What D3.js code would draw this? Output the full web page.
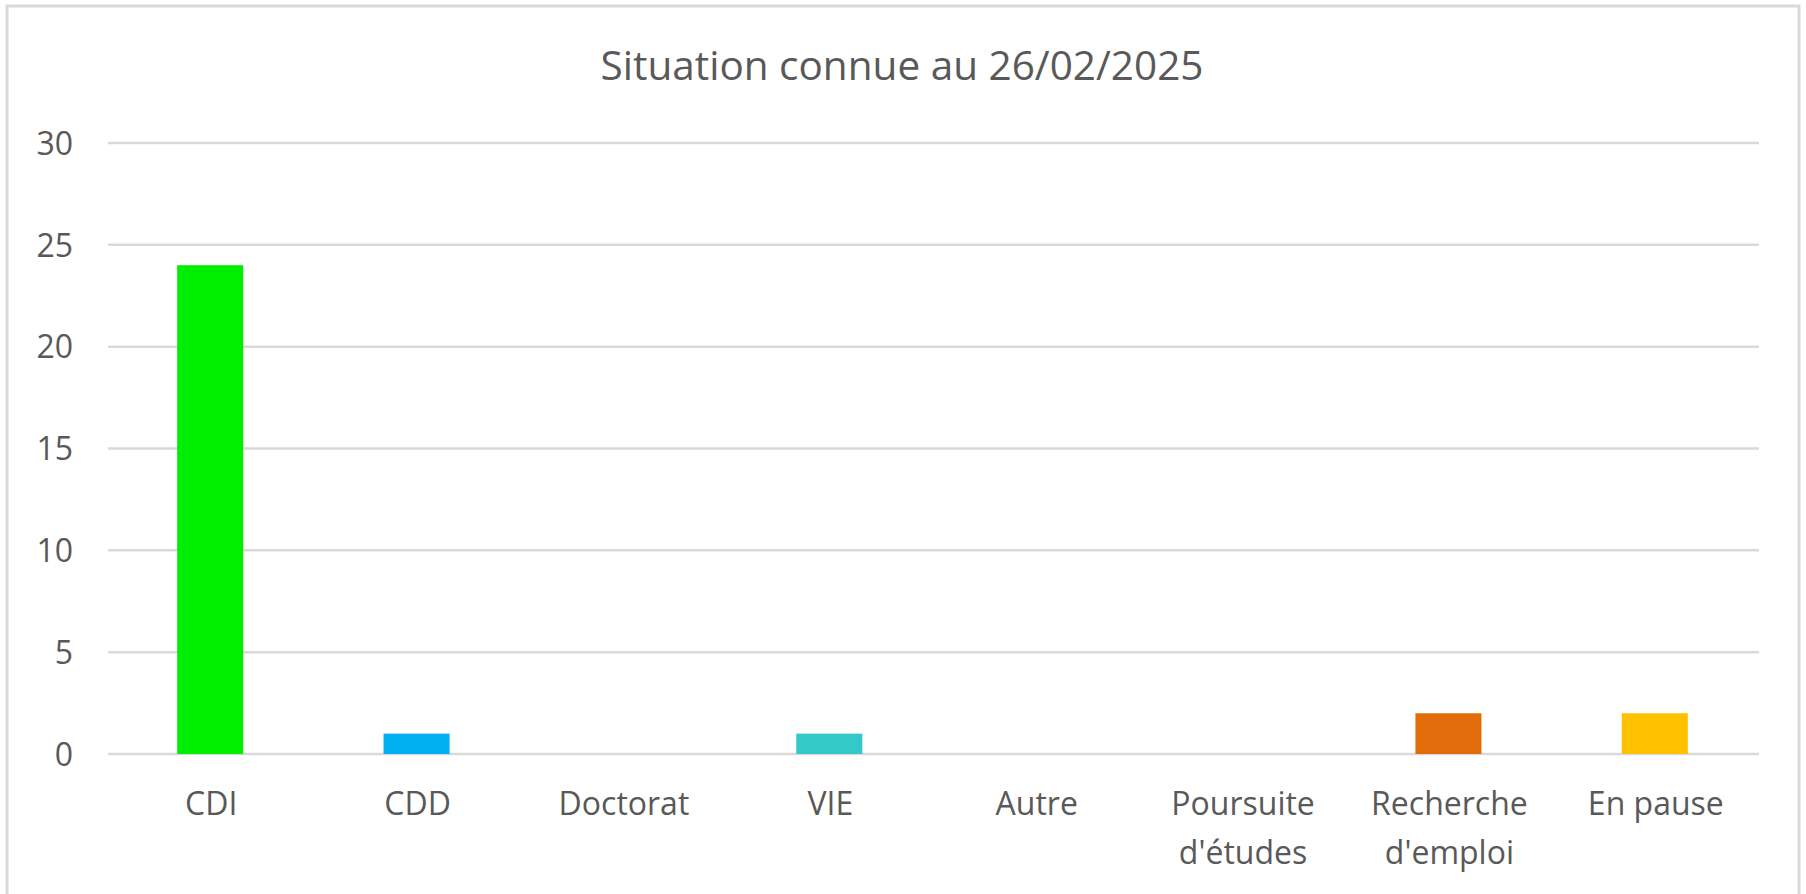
<!DOCTYPE html>
<html>
<head>
<meta charset="utf-8">
<script src="https://cdn.jsdelivr.net/npm/d3@7"></script>
<style>
  html, body { margin: 0; padding: 0; background: #fff; }
  svg text { font-family: "Open Sans", "Noto Sans", sans-serif; fill: #595959; }
</style>
</head>
<body>
<div id="chart"></div>
<script>
// Chart data
const categories = ["CDI", "CDD", "Doctorat", "VIE", "Autre", "Poursuite d'études", "Recherche d'emploi", "En pause"]
const categoryLines = [["CDI"], ["CDD"], ["Doctorat"], ["VIE"], ["Autre"], ["Poursuite", "d'études"], ["Recherche", "d'emploi"], ["En pause"]]
const counts = [24, 1, 0, 1, 0, 0, 2, 2]
const barColors = ["#00ee00", "#00b0f0", "#4472c4", "#33c9c9", "#a5a5a5", "#70ad47", "#e36c0a", "#ffc000"]
const yTicks = [0, 5, 10, 15, 20, 25, 30]
const title = "Situation connue au 26/02/2025"

const width = 1806
const height = 894
const margin = { top: 143, right: 47, bottom: 140, left: 108 }

const svg = d3.select("#chart")
  .append("svg")
  .attr("width", width)
  .attr("height", height)

// Outer chart frame
svg.append("rect")
  .attr("x", 7)
  .attr("y", 6)
  .attr("width", 1792)
  .attr("height", 900)
  .attr("fill", "#fff")
  .attr("stroke", "#d9d9d9")
  .attr("stroke-width", 3)

svg.append("text")
  .attr("x", 902)
  .attr("y", 80)
  .attr("text-anchor", "middle")
  .attr("font-size", "40.5px")
  .text(title)

// Scales
const x = d3.scaleBand()
  .domain(categories)
  .range([margin.left, width - margin.right])
  .paddingInner(0.68)
  .paddingOuter(0.34)

const y = d3.scaleLinear()
  .domain([0, 30])
  .range([height - margin.bottom, margin.top])

// Gridlines
svg.append("g")
  .selectAll("line")
  .data(yTicks)
  .join("line")
  .attr("x1", margin.left)
  .attr("x2", width - margin.right)
  .attr("y1", d => y(d))
  .attr("y2", d => y(d))
  .attr("stroke", "#d9d9d9")
  .attr("stroke-width", 2.5)

// Y axis labels
const yAxis = svg.append("g")
  .attr("transform", `translate(${margin.left - 35},0)`)
  .call(d3.axisLeft(y).tickValues(yTicks).tickSize(0).tickPadding(0))
yAxis.select(".domain").remove()
yAxis.selectAll("text")
  .attr("font-size", "32px")
  .attr("fill", "#595959")
  .attr("dy", "0.35em")

// Bars
svg.append("g")
  .selectAll("rect")
  .data(counts.map((v, i) => ({ name: categories[i], value: v, color: barColors[i] })))
  .join("rect")
  .attr("x", d => x(d.name) - 1)
  .attr("width", x.bandwidth())
  .attr("y", d => y(d.value))
  .attr("height", d => y(0) - y(d.value))
  .attr("fill", d => d.color)

// X axis labels (wrapped)
const xLabels = svg.append("g")
  .selectAll("text")
  .data(categories)
  .join("text")
  .attr("x", d => x(d) + x.bandwidth() / 2)
  .attr("y", 815)
  .attr("text-anchor", "middle")
  .attr("font-size", "32px")

xLabels.each(function(d, i) {
  const el = d3.select(this)
  categoryLines[i].forEach((line, j) => {
    el.append("tspan")
      .attr("x", x(d) + x.bandwidth() / 2)
      .attr("dy", j === 0 ? 0 : 49)
      .text(line)
  })
})
</script>
</body>
</html>
